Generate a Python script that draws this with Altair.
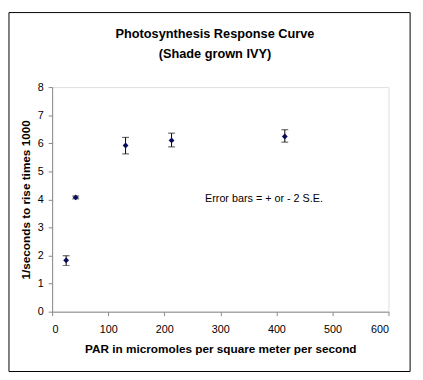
import altair as alt
import pandas as pd

par = [25, 42, 131, 213, 415]
rate = [1.83, 4.07, 5.92, 6.10, 6.24]
err_low = [1.65, 4.02, 5.62, 5.87, 6.04]
err_high = [1.99, 4.12, 6.21, 6.36, 6.48]
title_lines = ["Photosynthesis Response Curve", "(Shade grown IVY)"]
note_text = ["Error bars = + or - 2 S.E."]

df = pd.DataFrame({"par": par, "rate": rate, "lo": err_low, "hi": err_high})

FONT = "Liberation Sans"

x_scale = alt.Scale(domain=[0, 600], nice=False)
y_scale = alt.Scale(domain=[0, 8], nice=False)

x_axis = alt.Axis(
    title="PAR in micromoles per square meter per second",
    values=[0, 100, 200, 300, 400, 500, 600],
    grid=False, tickSize=4, labelPadding=8, titlePadding=10,
    titleFontWeight="bold", titleFontSize=12, labelFontSize=11,
)
y_axis = alt.Axis(
    title="1/seconds to rise times 1000",
    values=[0, 1, 2, 3, 4, 5, 6, 7, 8],
    grid=False, tickSize=4, labelPadding=5, titlePadding=5,
    titleFontWeight="bold", titleFontSize=12, labelFontSize=11,
    labelOverlap=False,
)

base = alt.Chart(df)

bars = base.mark_rule(color="black", strokeWidth=1).encode(
    x=alt.X("par:Q", scale=x_scale, axis=x_axis),
    y=alt.Y("lo:Q", scale=y_scale, axis=y_axis),
    y2="hi:Q",
)
cap_lo = base.mark_tick(color="black", thickness=1, size=7, orient="horizontal").encode(
    x=alt.X("par:Q", scale=x_scale, axis=x_axis), y=alt.Y("lo:Q", scale=y_scale, axis=y_axis)
)
cap_hi = base.mark_tick(color="black", thickness=1, size=7, orient="horizontal").encode(
    x=alt.X("par:Q", scale=x_scale, axis=x_axis), y=alt.Y("hi:Q", scale=y_scale, axis=y_axis)
)
pts = base.mark_point(shape="diamond", filled=True, color="#0a0a5a", size=35, opacity=1).encode(
    x=alt.X("par:Q", scale=x_scale, axis=x_axis), y=alt.Y("rate:Q", scale=y_scale, axis=y_axis)
)

note = alt.Chart(pd.DataFrame({"t": note_text})).mark_text(
    fontSize=11, font=FONT, color="black", align="center", baseline="middle"
).encode(text="t:N", x=alt.value(216), y=alt.value(114))

title1 = alt.Chart(pd.DataFrame({"t": [title_lines[0]]})).mark_text(
    fontSize=13, font=FONT, fontWeight="bold", color="black", align="center", baseline="middle"
).encode(text="t:N", x=alt.value(166), y=alt.value(-54))
title2 = alt.Chart(pd.DataFrame({"t": [title_lines[1]]})).mark_text(
    fontSize=13, font=FONT, fontWeight="bold", color="black", align="center", baseline="middle"
).encode(text="t:N", x=alt.value(166), y=alt.value(-34))

border = alt.Chart(pd.DataFrame({"a": [0]})).mark_rect(
    fill=None, stroke="black", strokeWidth=1
).encode(x=alt.value(-44), x2=alt.value(365), y=alt.value(-76), y2=alt.value(290))

chart = alt.layer(border, bars, cap_lo, cap_hi, pts, note, title1, title2).properties(
    width=343, height=229,
    padding={"left": 45, "top": 77, "right": 27, "bottom": 66},
    autosize=alt.AutoSizeParams(type="none"),
).configure_view(stroke=None).configure_axis(
    domainColor="black", tickColor="black", labelColor="black", titleColor="black",
    labelFont=FONT, titleFont=FONT,
).configure(background="white")

chart.save("out.html", embed_options={"renderer": "svg", "actions": False})
